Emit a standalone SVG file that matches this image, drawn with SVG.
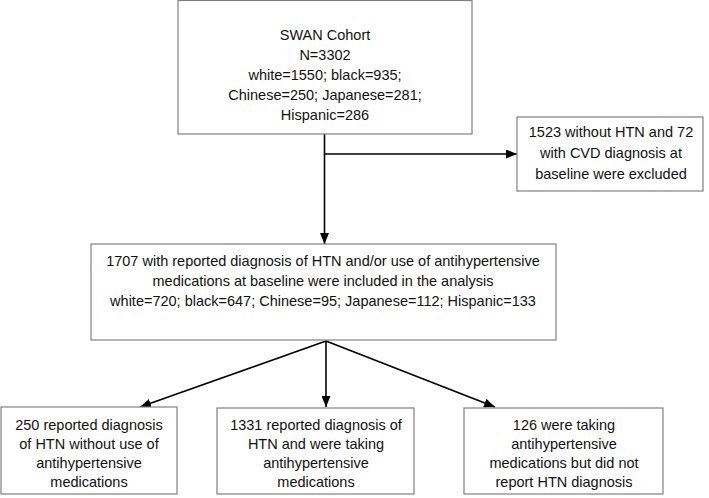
<svg xmlns="http://www.w3.org/2000/svg" width="709" height="498" viewBox="0 0 709 498">
<style>
.box{fill:#fff;stroke:#808080;stroke-width:1.2}
.t{font-family:"Liberation Sans",Arial,sans-serif;font-size:14.5px;fill:#111;text-anchor:middle}
.c{fill:none;stroke:#000;stroke-width:1.6}
</style>
<defs>
<marker id="ah" markerUnits="userSpaceOnUse" markerWidth="11" markerHeight="9" refX="11" refY="4.5" orient="auto">
<path d="M0,0 L11,4.5 L0,9 z" fill="#000"/>
</marker>
</defs>
<rect width="709" height="498" fill="#fff"/>
<g id="connectors">
<line class="c" x1="324.5" y1="134" x2="324.5" y2="244" marker-end="url(#ah)"/>
<line class="c" x1="324.5" y1="154" x2="517" y2="154" marker-end="url(#ah)"/>
<line class="c" x1="326" y1="341" x2="140" y2="407" marker-end="url(#ah)"/>
<line class="c" x1="326" y1="341" x2="326" y2="407" marker-end="url(#ah)"/>
<line class="c" x1="326" y1="341" x2="495" y2="407" marker-end="url(#ah)"/>
</g>
<g id="cohort">
<rect class="box" x="178" y="0.5" width="294" height="133.5"/>
<text class="t" x="325" y="40">SWAN Cohort</text>
<text class="t" x="325" y="60">N=3302</text>
<text class="t" x="325" y="80">white=1550; black=935;</text>
<text class="t" x="325" y="100">Chinese=250; Japanese=281;</text>
<text class="t" x="325" y="120">Hispanic=286</text>
</g>
<g id="excluded">
<rect class="box" x="517" y="117" width="186" height="74"/>
<text class="t" x="611" y="137">1523 without HTN and 72</text>
<text class="t" x="611" y="158">with CVD diagnosis at</text>
<text class="t" x="611" y="179">baseline were excluded</text>
</g>
<g id="included">
<rect class="box" x="91" y="244" width="465" height="96"/>
<text class="t" x="323" y="266">1707 with reported diagnosis of HTN and/or use of antihypertensive</text>
<text class="t" x="323" y="286">medications at baseline were included in the analysis</text>
<text class="t" x="323" y="306">white=720; black=647; Chinese=95; Japanese=112; Hispanic=133</text>
</g>
<g id="htn-no-med">
<rect class="box" x="1" y="407" width="176" height="87"/>
<text class="t" x="89" y="430">250 reported diagnosis</text>
<text class="t" x="89" y="449">of HTN without use of</text>
<text class="t" x="89" y="468">antihypertensive</text>
<text class="t" x="89" y="487">medications</text>
</g>
<g id="htn-med">
<rect class="box" x="217" y="408" width="197" height="86"/>
<text class="t" x="316" y="430">1331 reported diagnosis of</text>
<text class="t" x="316" y="449">HTN and were taking</text>
<text class="t" x="316" y="468">antihypertensive</text>
<text class="t" x="316" y="487">medications</text>
</g>
<g id="med-no-htn">
<rect class="box" x="464" y="408" width="199" height="86"/>
<text class="t" x="564" y="430">126 were taking</text>
<text class="t" x="564" y="449">antihypertensive</text>
<text class="t" x="564" y="468">medications but did not</text>
<text class="t" x="564" y="487">report HTN diagnosis</text>
</g>
</svg>
